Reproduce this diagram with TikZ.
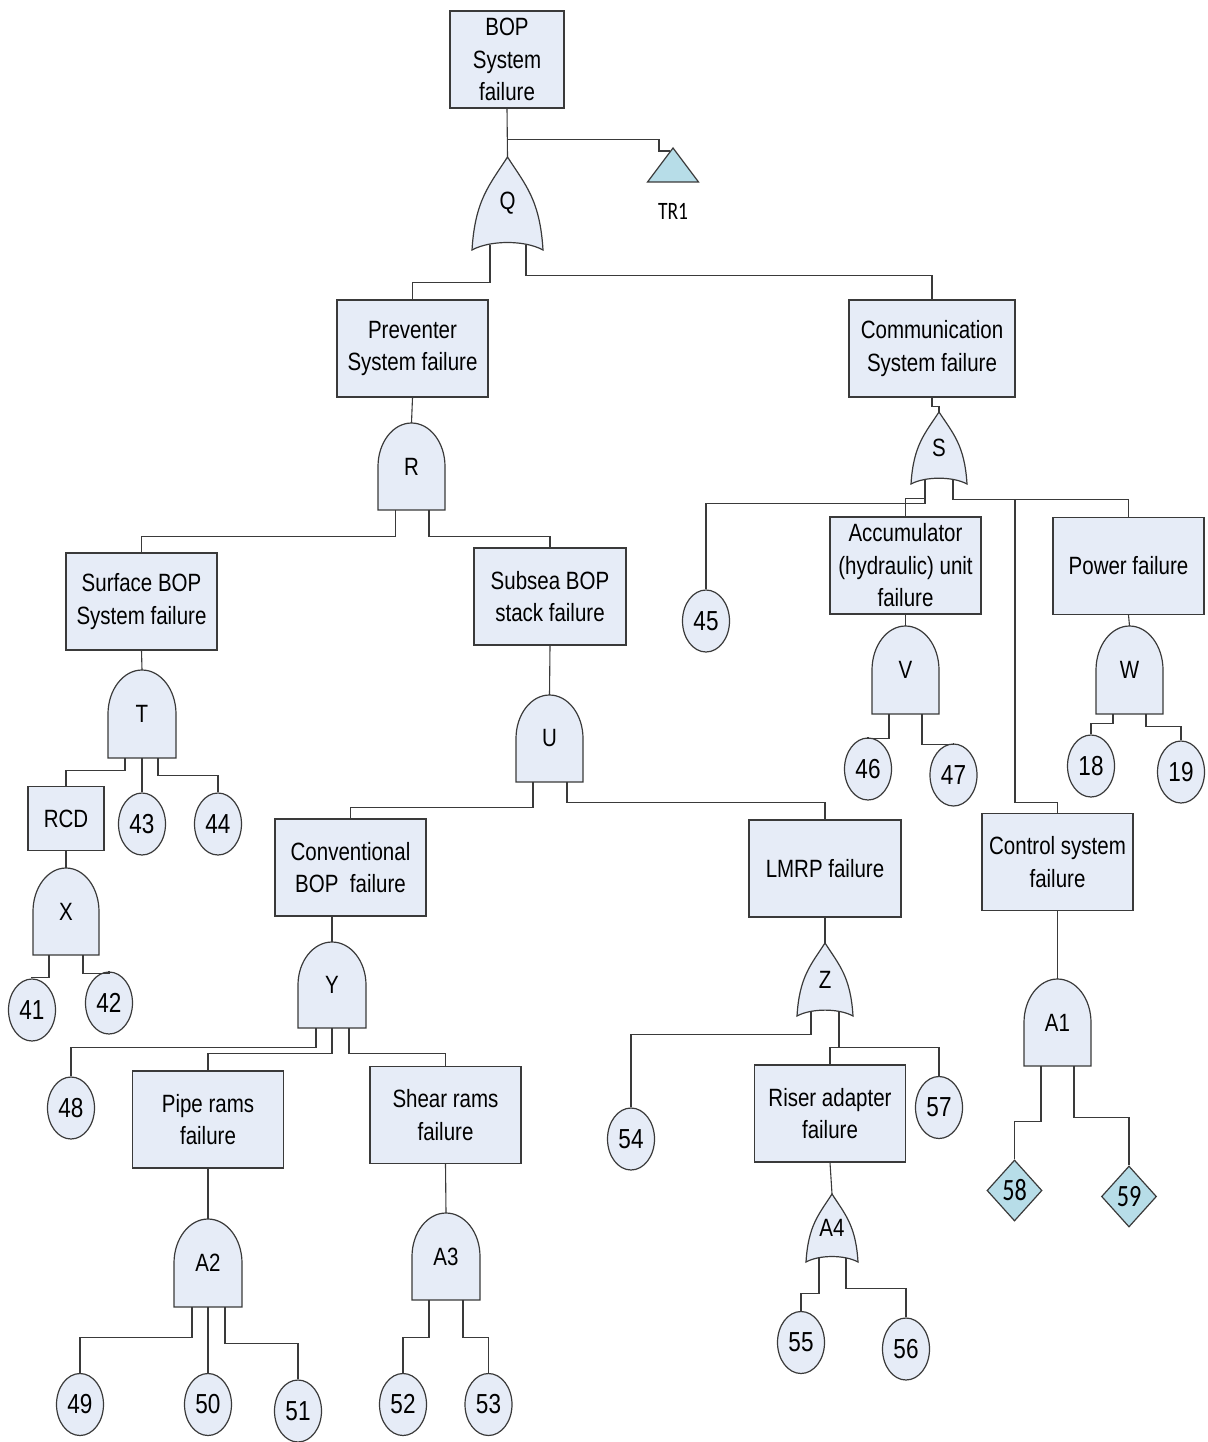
\documentclass[tikz,border=0pt]{standalone}
\usepackage{fontspec}
\setmainfont{Liberation Sans}[FakeStretch=0.82]
\newfontfamily\calfont{Carlito}
\newfontfamily\calnarrow{Carlito}[FakeStretch=0.78]
\usetikzlibrary{calc,shapes.geometric}
\definecolor{boxfill}{HTML}{E6ECF7}
\definecolor{tealfill}{HTML}{B7DDE8}
\definecolor{edge}{HTML}{3A3A3A}

\newcommand{\andgate}[5]{%
  \filldraw[gatebody,shift={(#2)}] (-#3,#4) -- (-#3,0) .. controls (-#3,-0.552*#4) and (-0.552*#3,-#4) .. (0,-#4)
    .. controls (0.552*#3,-#4) and (#3,-0.552*#4) .. (#3,0) -- (#3,#4) -- cycle;
  \node[gate,minimum width=2*#3,minimum height=2*#4] (#1) at (#2) {#5};}
\newcommand{\orgate}[5]{%
  \filldraw[gatebody,shift={(#2)}] (-#3,#4) .. controls (-0.915*#3,-0.075*#4) and (-0.507*#3,-0.398*#4) .. (0,-#4)
    .. controls (0.507*#3,-0.398*#4) and (0.915*#3,-0.075*#4) .. (#3,#4)
    .. controls (0.49*#3,0.785*#4) and (-0.49*#3,0.785*#4) .. (-#3,#4) -- cycle;
  \node[gate,minimum width=2*#3,minimum height=2*#4] (#1) at (#2) {#5};}

\begin{document}
\begin{tikzpicture}[x=1pt,y=-1pt,
  event/.style={draw=edge,fill=boxfill,line width=1.2pt,minimum width=151,minimum height=97,align=center,inner sep=2pt,font=\fontsize{25}{32.5}\selectfont},
  basic/.style={draw=edge,fill=boxfill,line width=1.2pt,ellipse,minimum width=47,minimum height=62,inner sep=0pt,font=\fontsize{27.5}{30}\selectfont},
  undev/.style={draw=edge,fill=tealfill,line width=1.2pt,diamond,minimum width=55,minimum height=61,inner sep=0pt,font=\calnarrow\fontsize{31}{31}\selectfont},
  gatebody/.style={draw=edge,fill=boxfill,line width=1.2pt},
  gate/.style={inner sep=0pt,font=\fontsize{25}{30}\selectfont},
  link/.style={draw=edge,line width=1.1pt}]
\useasboundingbox (0,0) rectangle (1207,1442);

% top of the tree
\node[event,minimum width=114] (top) at (507,59.5) {BOP\\System\\failure};
\orgate{Q}{507.5,203.5}{35.5}{46.5}{Q}
\draw[link] (top.south) -- (Q.north);
\coordinate (tr1) at (673,148);
\filldraw[draw=edge,fill=tealfill,line width=1.2pt] (tr1) -- ++(25.5,34) -- ++(-51,0) -- cycle;
\node[font=\calnarrow\fontsize{25}{25}\selectfont] (tr1lbl) at (673,211) {TR1};
\draw[link] ($(top.south)+(0,31)$) -| ($(tr1)+(-14,3)$) -- ($(tr1)+(-3,3)$);

\node[event] (prev) at (412.5,348.5) {Preventer\\System failure};
\node[event,minimum width=166] (comm) at (932,348.5) {Communication\\System failure};
\draw[link] ($(Q.south)+(-17.5,-5)$) -- ++(0,37) -| (prev.north);
\draw[link] ($(Q.south)+(18.5,-5)$) -- ++(0,30) -| (comm.north);

% preventer branch
\andgate{R}{411.5,466.5}{33.5}{43.5}{R}
\draw[link] (prev.south) -- (R.north);
\node[event] (surf) at (141.5,601.5) {Surface BOP\\System failure};
\node[event,minimum width=152] (subsea) at (550,596.5) {Subsea BOP\\stack failure};
\draw[link] ($(R.south)+(-16,0)$) -- ++(0,26) -| (surf.north);
\draw[link] ($(R.south)+(17.5,0)$) -- ++(0,26) -| (subsea.north);

\andgate{T}{142,714}{34}{44}{T}
\draw[link] (surf.south) -- (T.north);
\node[event,minimum width=76,minimum height=64] (rcd) at (66,818.5) {RCD};
\node[basic] (e43) at (142,824) {43};
\node[basic] (e44) at (218,824) {44};
\draw[link] ($(T.south)+(-17,0)$) -- ++(0,12) -| (rcd.north);
\draw[link] (T.south) -- (e43.north);
\draw[link] ($(T.south)+(16,0)$) -- ++(0,17) -| (e44.north);

\andgate{X}{66,911.5}{33}{43.5}{X}
\draw[link] (rcd.south) -- (X.north);
\node[basic] (e41) at (32,1010) {41};
\node[basic] (e42) at (109,1003) {42};
\draw[link] ($(X.south)+(-17,0)$) -- ++(0,22) -| (e41.north);
\draw[link] ($(X.south)+(17,0)$) -- ++(0,18) -| (e42.north);

\andgate{U}{549.5,738.5}{33.5}{43.5}{U}
\draw[link] (subsea.south) -- (U.north);
\node[event] (conv) at (350.5,867.5) {Conventional\\BOP \ failure};
\node[event,minimum width=152] (lmrp) at (825,868.5) {LMRP failure};
\draw[link] ($(U.south)+(-16.5,0)$) -- ++(0,25) -| (conv.north);
\draw[link] ($(U.south)+(17.5,0)$) -- ++(0,20) -| (lmrp.north);

\andgate{Y}{332,985}{34}{43}{Y}
\draw[link] (Y.north) -- (Y.north |- conv.south);
\node[basic] (e48) at (71,1108) {48};
\node[event] (pipe) at (208,1119.5) {Pipe rams\\failure};
\node[event] (shear) at (445.5,1115) {Shear rams\\failure};
\draw[link] ($(Y.south)+(-16,0)$) -- ++(0,19) -| (e48.north);
\draw[link] (Y.south) -- ++(0,25) -| (pipe.north);
\draw[link] ($(Y.south)+(17,0)$) -- ++(0,25) -| (shear.north);

\andgate{A2}{208,1263}{34}{44}{A2}
\draw[link] (pipe.south) -- (A2.north);
\node[basic] (e49) at (80,1404.5) {49};
\node[basic] (e50) at (208,1404.5) {50};
\node[basic] (e51) at (298,1411) {51};
\draw[link] ($(A2.south)+(-16,0)$) -- ++(0,30) -| (e49.north);
\draw[link] (A2.south) -- (e50.north);
\draw[link] ($(A2.south)+(17,0)$) -- ++(0,36) -| (e51.north);

\andgate{A3}{446,1256.5}{34}{43.5}{A3}
\draw[link] (shear.south) -- (A3.north);
\node[basic] (e52) at (403,1404.5) {52};
\node[basic] (e53) at (488.5,1404.5) {53};
\draw[link] ($(A3.south)+(-17,0)$) -- ++(0,37) -| (e52.north);
\draw[link] ($(A3.south)+(17,0)$) -- ++(0,37) -| (e53.north);

\orgate{Z}{825,979.5}{28}{36.5}{Z}
\draw[link] (lmrp.south) -- (Z.north);
\node[basic] (e54) at (631,1139) {54};
\node[event] (riser) at (830,1113.5) {Riser adapter\\failure};
\node[basic] (e57) at (939,1107.5) {57};
\draw[link] ($(Z.south)+(-14,-4)$) -- ++(0,22) -| (e54.north);
\draw[link] ($(Z.south)+(14,-4)$) -- ++(0,35) -| (e57.north);
\draw[link] ($(Z.south)+(14,31)$) -| (riser.north);

\orgate{A4}{832,1228}{26}{34}{A4}
\draw[link] (riser.south) -- (A4.north);
\node[basic] (e55) at (801,1342.5) {55};
\node[basic] (e56) at (906,1349) {56};
\draw[link] ($(A4.south)+(-13,-4)$) -- ++(0,35) -| (e55.north);
\draw[link] ($(A4.south)+(14,-4)$) -- ++(0,30) -| (e56.north);

% communication branch
\orgate{S}{939,448}{28}{36}{S}
\draw[link] (comm.south) -- ++(0,9) -| (S.north);
\node[basic] (e45) at (706,621) {45};
\node[event] (accum) at (905.5,565.5) {Accumulator\\(hydraulic) unit\\failure};
\node[event] (power) at (1128.5,566) {Power failure};
\node[event] (ctrl) at (1057.5,862) {Control system\\failure};
\draw[link] ($(S.south)+(-14,-4)$) -- ++(0,23) -| (e45.north);
\draw[link] ($(S.south)+(-14,14)$) -| (accum.north);
\draw[link] ($(S.south)+(14,-4)$) -- ++(0,19) -| (power.north);
\draw[link] ($(S.south)+(76,15)$) |- ($(ctrl.north)+(0,-10)$) -- (ctrl.north);

\andgate{V}{905.5,670}{33.5}{44}{V}
\draw[link] (accum.south) -- (V.north);
\node[basic] (e46) at (868,769) {46};
\node[basic] (e47) at (953.5,775) {47};
\draw[link] ($(V.south)+(-16.5,0)$) -- ++(0,24) -| (e46.north);
\draw[link] ($(V.south)+(16.5,0)$) -- ++(0,30) -| (e47.north);

\andgate{W}{1129.5,670}{33.5}{44}{W}
\draw[link] (power.south) -- (W.north);
\node[basic] (e18) at (1091,766) {18};
\node[basic] (e19) at (1181,772) {19};
\draw[link] ($(W.south)+(-16.5,0)$) -- ++(0,9) -| (e18.north);
\draw[link] ($(W.south)+(16.5,0)$) -- ++(0,12) -| (e19.north);

\andgate{A1}{1057.5,1022.5}{33.5}{43.5}{A1}
\draw[link] (ctrl.south) -- (A1.north);
\node[undev] (e58) at (1014.5,1190.5) {58};
\node[undev] (e59) at (1129,1196.5) {59};
\draw[link] ($(A1.south)+(-16.5,0)$) -- ++(0,55) -| (e58.north);
\draw[link] ($(A1.south)+(16.5,0)$) -- ++(0,51) -| (e59.north);
\end{tikzpicture}
\end{document}
